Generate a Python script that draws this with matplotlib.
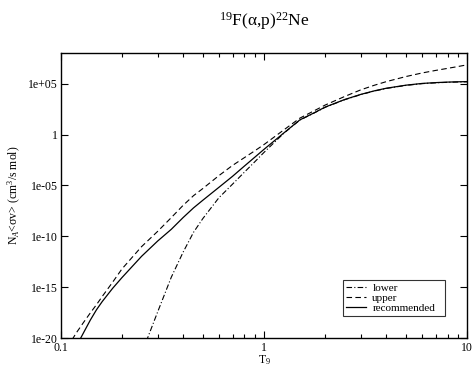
import numpy as np
import matplotlib
matplotlib.use("Agg")
import matplotlib.pyplot as plt
from matplotlib.ticker import LogLocator, FixedLocator, NullFormatter

plt.rcParams['font.family'] = ['Liberation Serif', 'DejaVu Serif']
plt.rcParams['mathtext.fontset'] = 'custom'
plt.rcParams['mathtext.rm'] = 'Liberation Serif'
plt.rcParams['mathtext.it'] = 'Liberation Serif:italic'

T9 = [0.1, 0.11, 0.12, 0.13, 0.14, 0.15, 0.16, 0.18, 0.2, 0.25, 0.3, 0.35, 0.4,
      0.45, 0.5, 0.6, 0.7, 0.8, 0.9, 1.0, 1.25, 1.5, 1.75, 2.0, 2.5, 3.0, 3.5,
      4.0, 5.0, 6.0, 7.0, 8.0, 9.0, 10.0]
log_recommended = [-24.5, -22.2, -20.7, -19.4, -18.2, -17.2, -16.4, -15.1, -14.05,
                   -11.95, -10.45, -9.3, -8.15, -7.2, -6.45, -5.18, -4.1, -3.1,
                   -2.23, -1.45, 0.15, 1.44, 2.1, 2.7, 3.45, 3.95, 4.3, 4.55, 4.85,
                   5.02, 5.1, 5.15, 5.18, 5.2]
log_upper = [-22.5, -20.6, -19.4, -18.4, -17.5, -16.7, -15.9, -14.5, -13.2, -11.0,
             -9.5, -8.15, -6.95, -6.0, -5.3, -4.03, -3.03, -2.27, -1.6, -0.98, 0.45,
             1.61, 2.3, 2.9, 3.75, 4.4, 4.85, 5.2, 5.7, 6.05, 6.3, 6.5, 6.68, 6.85]
log_lower = [-40.0, -37.0, -34.0, -31.5, -29.5, -27.8, -26.3, -24.5, -23.2, -21.5,
             -17.4, -14.0, -11.55, -9.6, -8.25, -6.2, -4.87, -3.7, -2.68, -1.75,
             0.12, 1.42, 2.08, 2.68, 3.43, 3.93, 4.28, 4.53, 4.83, 5.0, 5.08, 5.13,
             5.16, 5.18]

fig = plt.figure(figsize=(4.74, 3.66), dpi=100)
ax = fig.add_axes([0.128, 0.0757, 0.858, 0.7793])

T = np.array(T9)
ax.plot(T, 10.0 ** np.array(log_lower), color='black', lw=0.8,
        dashes=(5, 2, 1, 2), label='lower')
ax.plot(T, 10.0 ** np.array(log_upper), color='black', lw=0.8,
        dashes=(5, 3), label='upper')
ax.plot(T, 10.0 ** np.array(log_recommended), color='black', lw=0.9,
        label='recommended')

ax.set_xscale('log')
ax.set_yscale('log')
ax.set_xlim(0.1, 10)
ax.set_ylim(1e-20, 1e8)

yt = [1e-20, 1e-15, 1e-10, 1e-5, 1, 1e5]
ax.yaxis.set_major_locator(FixedLocator(yt))
ax.set_yticklabels(['1e-20', '1e-15', '1e-10', '1e-05', '1', '1e+05'])
ax.yaxis.set_minor_locator(FixedLocator([]))
ax.xaxis.set_major_locator(FixedLocator([0.1, 1, 10]))
ax.set_xticklabels(['0.1', '1', '10'])
ax.xaxis.set_minor_locator(LogLocator(base=10, subs=np.arange(2, 10)))
ax.xaxis.set_minor_formatter(NullFormatter())

ax.tick_params(which='major', direction='in', length=5, width=0.8,
               top=True, right=True, labelsize=8.5)
ax.tick_params(axis='y', which='major', pad=2)
ax.tick_params(axis='x', which='major', pad=3)
ax.tick_params(which='minor', direction='in', length=3, width=0.8,
               top=True, right=True)
for s in ax.spines.values():
    s.set_linewidth(1.0)

ax.set_xlabel(r'T$_9$', fontsize=8.5, labelpad=-1)
ax.set_ylabel(r'N$_A$<σv> (cm$^3$/s mol)', fontsize=8.5, labelpad=4)

fig.text(0.557, 0.943, r'$^{19}$F(α,p)$^{22}$Ne', ha='center', va='center',
         fontsize=12.5)

leg = ax.legend(loc='lower left', bbox_to_anchor=(0.694, 0.078, 0.251, 0.133),
                mode='expand', fontsize=8, frameon=True, fancybox=False,
                edgecolor='black', handlelength=1.8, handletextpad=0.6,
                borderpad=0.25, labelspacing=0.05, borderaxespad=0)
leg.get_frame().set_linewidth(0.8)

fig.savefig('out.png', dpi=100)
